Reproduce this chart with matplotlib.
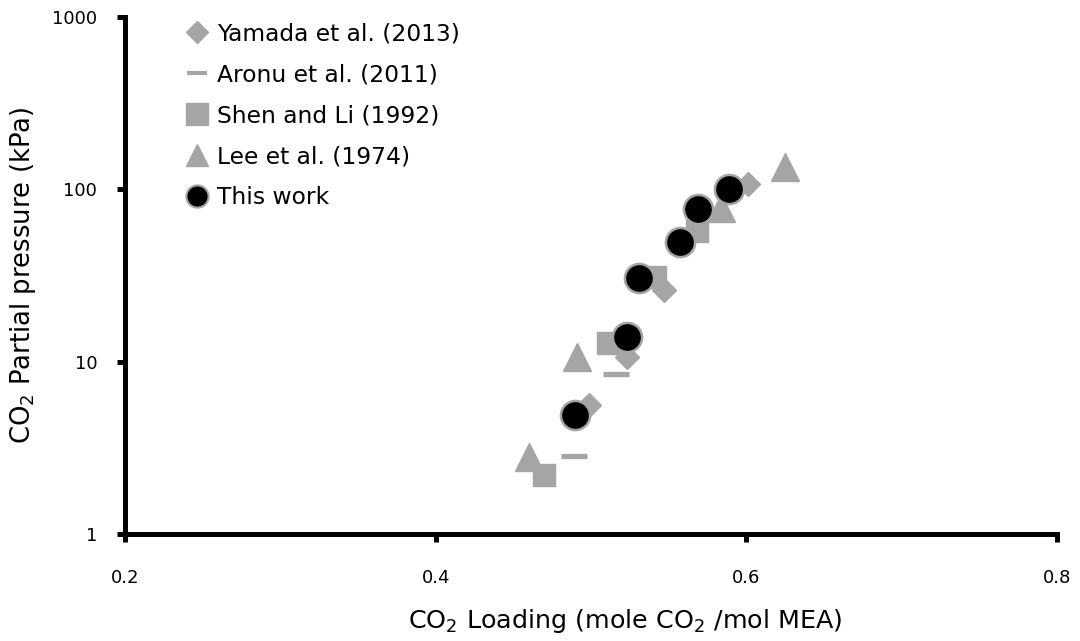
import matplotlib
matplotlib.use("Agg")
import matplotlib.pyplot as plt
from matplotlib.lines import Line2D

plt.rcParams["font.family"] = ["DejaVu Sans"]
plt.rcParams["mathtext.fontset"] = "dejavusans"
plt.rcParams["mathtext.default"] = "regular"

# Yamada et al. (2013)
yamada_x = [0.499, 0.523, 0.547, 0.601]
yamada_y = [5.6, 10.7, 25.9, 108]

# Aronu et al. (2011)
aronu_x = [0.489, 0.516]
aronu_y = [2.85, 8.5]

# Shen and Li (1992)
shen_x = [0.470, 0.511, 0.541, 0.568]
shen_y = [2.2, 12.8, 31, 57]

# Lee et al. (1974)
lee_x = [0.460, 0.491, 0.584, 0.625]
lee_y = [2.8, 10.6, 78, 135]

# This work
work_x = [0.490, 0.523, 0.531, 0.557, 0.569, 0.589]
work_y = [4.9, 13.9, 30.6, 49.7, 76.7, 100]

grey = "#A5A5A5"

fig = plt.figure(figsize=(10.8, 6.41), dpi=100)
ax = fig.add_axes([0.1157, 0.1669, 0.863, 0.8066])

ax.plot(yamada_x, yamada_y, "D", color=grey, ms=12, ls="none")
ax.plot(aronu_x, aronu_y, "_", color=grey, ms=19, mew=3.8, ls="none")
ax.plot(shen_x, shen_y, "s", color=grey, ms=15.5, ls="none")
ax.plot(lee_x, lee_y, "^", color=grey, ms=20, ls="none")
ax.plot(work_x, work_y, "o", mfc="black", mec=grey, mew=1.8, ms=21, ls="none")

ax.set_yscale("log")
ax.set_xlim(0.2, 0.8)
ax.set_ylim(1, 1000)
ax.set_xticks([0.2, 0.4, 0.6, 0.8])
ax.set_xticklabels(["0.2", "0.4", "0.6", "0.8"])
ax.set_yticks([1, 10, 100, 1000])
ax.set_yticklabels(["1", "10", "100", "1000"])
ax.minorticks_off()

for s in ["top", "right"]:
    ax.spines[s].set_visible(False)
for s in ["left", "bottom"]:
    ax.spines[s].set_linewidth(3.6)
ax.tick_params(width=3.6, length=6, labelsize=13, pad=14)
ax.tick_params(axis="x", pad=19)

ax.set_xlabel("CO$_2$ Loading (mole CO$_2$ /mol MEA)", fontsize=18.3)
ax.xaxis.set_label_coords(0.5365, -0.141)
ax.set_ylabel("CO$_2$ Partial pressure (kPa)", fontsize=18.6, labelpad=10)

handles = [
    Line2D([], [], marker="D", color=grey, ms=11, ls="none"),
    Line2D([], [], marker="_", color=grey, ms=14.5, mew=3, ls="none"),
    Line2D([], [], marker="s", color=grey, ms=16, ls="none"),
    Line2D([], [], marker="^", color=grey, ms=16, ls="none"),
    Line2D([], [], marker="o", mfc="black", mec=grey, mew=1.5, ms=16, ls="none"),
]
labels = ["Yamada et al. (2013)", "Aronu et al. (2011)", "Shen and Li (1992)",
          "Lee et al. (1974)", "This work"]
ax.legend(handles, labels, loc="upper left", bbox_to_anchor=(0.0676, 0.99),
          frameon=False, fontsize=16.8, handlelength=0.8, handletextpad=0.45,
          labelspacing=0.77, borderaxespad=0, borderpad=0)

fig.savefig("out.png", dpi=100)
